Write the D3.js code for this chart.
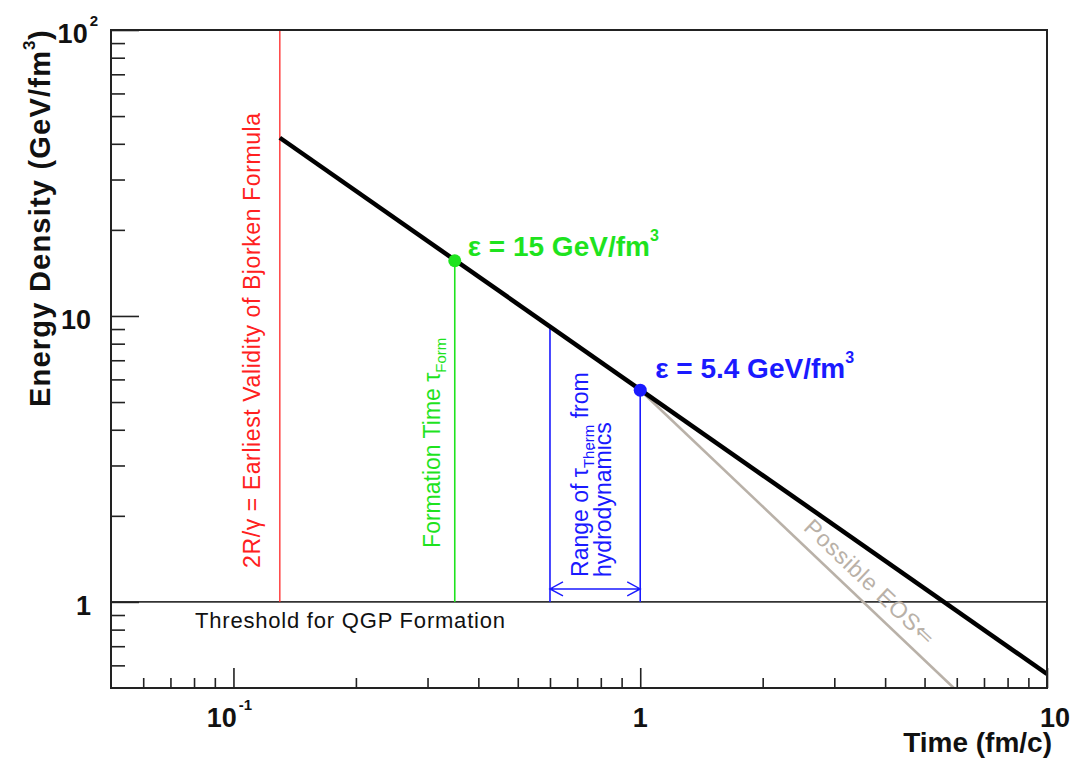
<!DOCTYPE html>
<html>
<head>
<meta charset="utf-8">
<script src="https://cdn.jsdelivr.net/npm/d3@7"></script>
<style>
  body { margin: 0; background: #fff; }
  svg { display: block; font-family: 'Liberation Sans', Arial, Helvetica, sans-serif; }
  .tick line { stroke: #222; stroke-width: 1.6; }
</style>
</head>
<body>
<div id="chart"></div>
<script>
// Chart data

// Bjorken estimate: energy density falls off with proper time
const bjorkenTau = [0.13, 10];
const bjorkenEps = [42, 0.56];

// "Possible EOS" curve, steeper fall-off starting at tau = 1
const eosTau = [1, 5.9];
const eosEps = [5.5, 0.5];

// Marked points on the Bjorken line
const formationPoint = { tau: 0.35, eps: 15.6 };
const thermPoint = { tau: 1.0, eps: 5.5 };
const thermRangeLow = { tau: 0.6, eps: 9.2 };

// Vertical markers
const earliestTau = 0.13;
const qgpThreshold = 1;
const arrowEps = 1.11;
const eosLabelTau = 2.4;

// Axis ticks
const xMajorTicks = [0.1, 1, 10];
const xMinorTicks = [0.06, 0.07, 0.08, 0.09, 0.2, 0.3, 0.4, 0.5, 0.6, 0.7, 0.8, 0.9, 2, 3, 4, 5, 6, 7, 8, 9];
const yMajorTicks = [1, 10, 100];
const yMinorTicks = [0.6, 0.7, 0.8, 0.9, 2, 3, 4, 5, 6, 7, 8, 9, 20, 30, 40, 50, 60, 70, 80, 90];
const xTickLabels = [
    { v: 0.1, base: '10', exp: '-1' },
    { v: 1, base: '1', exp: '' },
    { v: 10, base: '10', exp: '' }
];
const yTickLabels = [
    { v: 1, base: '1', exp: '' },
    { v: 10, base: '10', exp: '' },
    { v: 100, base: '10', exp: '2' }
];

const WIDTH = 1070, HEIGHT = 761;
const PLOT = { left: 111, right: 1047, top: 30, bottom: 688 };

const RED = '#ff2020', GREEN = '#1ee31e', BLUE = '#1a1aff', GRAY = '#b9b1a8';

const svg = d3.select('#chart').append('svg')
    .attr('width', WIDTH)
    .attr('height', HEIGHT);

const x = d3.scaleLog().domain([0.05, 10]).range([PLOT.left, PLOT.right]);
const y = d3.scaleLog().domain([0.5, 100]).range([PLOT.bottom, PLOT.top]);

svg.append('clipPath').attr('id', 'plot-clip')
    .append('rect')
    .attr('x', PLOT.left).attr('y', PLOT.top)
    .attr('width', PLOT.right - PLOT.left)
    .attr('height', PLOT.bottom - PLOT.top);

const plot = svg.append('g').attr('clip-path', 'url(#plot-clip)');

// Axes (ticks pointing inward)
function addAxis(axis, transform) {
    svg.append('g')
        .attr('transform', transform)
        .call(axis)
        .call(g => g.select('.domain').remove());
}
addAxis(d3.axisBottom(x).tickValues(xMajorTicks).tickSize(-20).tickFormat(''), `translate(0,${PLOT.bottom})`);
addAxis(d3.axisBottom(x).tickValues(xMinorTicks).tickSize(-10).tickFormat(''), `translate(0,${PLOT.bottom})`);
addAxis(d3.axisLeft(y).tickValues(yMajorTicks).tickSize(-28).tickFormat(''), `translate(${PLOT.left},0)`);
addAxis(d3.axisLeft(y).tickValues(yMinorTicks).tickSize(-14).tickFormat(''), `translate(${PLOT.left},0)`);

// Tick labels with exponents
function powerLabel(parent, d, attrs) {
    const t = parent.append('text')
        .attr('font-size', 27)
        .attr('font-weight', 'bold')
        .attr('fill', '#111');
    Object.entries(attrs).forEach(([k, v]) => t.attr(k, v));
    t.append('tspan').text(d.base);
    if (d.exp) {
        t.append('tspan')
            .attr('font-size', 15)
            .attr('dy', -17)
            .attr('dx', 2)
            .text(d.exp);
    }
    return t;
}

xTickLabels.forEach(d => {
    powerLabel(svg, d, {
        x: x(d.v) + (d.exp ? -4 : 0) + (d.v === 10 ? 8 : 0),
        y: PLOT.bottom + 39,
        'text-anchor': 'middle'
    });
});
yTickLabels.forEach(d => {
    powerLabel(svg, d, {
        x: d.exp ? 98 : 91,
        y: y(d.v) + 13,
        'text-anchor': 'end'
    });
});

// Axis titles
// y title: main part forced to a fixed length, then the exponent and ")" after it
const yTitleX = 50, yTitleStart = 407, yTitleMainLen = 356;
const yTitleTop = yTitleStart - yTitleMainLen;
svg.append('text')
    .attr('transform', `translate(${yTitleX},${yTitleStart}) rotate(-90)`)
    .attr('font-size', 29)
    .attr('font-weight', 'bold')
    .attr('textLength', yTitleMainLen)
    .attr('fill', '#111')
    .text('Energy Density (GeV/fm');
svg.append('text')
    .attr('transform', `translate(${yTitleX - 15},${yTitleTop - 1}) rotate(-90)`)
    .attr('font-size', 17)
    .attr('font-weight', 'bold')
    .attr('fill', '#111')
    .text('3');
svg.append('text')
    .attr('transform', `translate(${yTitleX},${yTitleTop - 11}) rotate(-90)`)
    .attr('font-size', 29)
    .attr('font-weight', 'bold')
    .attr('fill', '#111')
    .text(')');

svg.append('text')
    .attr('x', 1052)
    .attr('y', 752)
    .attr('text-anchor', 'end')
    .attr('font-size', 28)
    .attr('font-weight', 'bold')
    .attr('fill', '#111')
    .text('Time (fm/c)');

// Threshold line for QGP formation
plot.append('line')
    .attr('x1', PLOT.left).attr('x2', PLOT.right)
    .attr('y1', y(qgpThreshold)).attr('y2', y(qgpThreshold))
    .attr('stroke', '#333')
    .attr('stroke-width', 1.6);

svg.append('text')
    .attr('x', 195)
    .attr('y', y(qgpThreshold) + 26)
    .attr('font-size', 22)
    .attr('textLength', 310)
    .attr('fill', '#111')
    .text('Threshold for QGP Formation');

// Earliest validity (red)
plot.append('line')
    .attr('x1', x(earliestTau)).attr('x2', x(earliestTau))
    .attr('y1', y(100)).attr('y2', y(qgpThreshold))
    .attr('stroke', RED)
    .attr('stroke-opacity', 0.8)
    .attr('stroke-width', 1.6);

svg.append('text')
    .attr('transform', `translate(${x(earliestTau) - 20},${y(qgpThreshold) - 34}) rotate(-90)`)
    .attr('font-size', 23)
    .attr('textLength', 455)
    .attr('fill', RED)
    .text('2R/\u03B3 = Earliest Validity of Bjorken Formula');

// Formation time (green)
plot.append('line')
    .attr('x1', x(formationPoint.tau)).attr('x2', x(formationPoint.tau))
    .attr('y1', y(qgpThreshold)).attr('y2', y(formationPoint.eps))
    .attr('stroke', GREEN)
    .attr('stroke-width', 1.6);

const formText = svg.append('text')
    .attr('transform', `translate(${x(formationPoint.tau) - 15},${y(qgpThreshold) - 54}) rotate(-90)`)
    .attr('font-size', 23)
    .attr('fill', GREEN);
formText.append('tspan').text('Formation Time \u03C4');
formText.append('tspan').attr('font-size', 15).attr('dy', 6).text('Form');

// Thermalization range (blue)
[thermRangeLow, thermPoint].forEach(p => {
    plot.append('line')
        .attr('x1', x(p.tau)).attr('x2', x(p.tau))
        .attr('y1', y(qgpThreshold)).attr('y2', y(p.eps))
        .attr('stroke', BLUE)
        .attr('stroke-width', 1.6);
});

const ax0 = x(thermRangeLow.tau), ax1 = x(thermPoint.tau), ay = y(arrowEps);
plot.append('path')
    .attr('d', `M${ax0},${ay}H${ax1}M${ax0 + 13},${ay - 7}L${ax0},${ay}L${ax0 + 13},${ay + 7}` +
               `M${ax1 - 13},${ay - 7}L${ax1},${ay}L${ax1 - 13},${ay + 7}`)
    .attr('fill', 'none')
    .attr('stroke', BLUE)
    .attr('stroke-width', 1.4);

const thermText = svg.append('text')
    .attr('transform', `translate(${ax0 + 38},${y(qgpThreshold) - 25}) rotate(-90)`)
    .attr('font-size', 23)
    .attr('fill', BLUE);
thermText.append('tspan').text('Range of \u03C4');
thermText.append('tspan').attr('font-size', 15).attr('dy', 6).text('Therm');
thermText.append('tspan').attr('dy', -6).text(' from');

svg.append('text')
    .attr('transform', `translate(${ax0 + 61},${y(qgpThreshold) - 25}) rotate(-90)`)
    .attr('font-size', 23)
    .attr('fill', BLUE)
    .text('hydrodynamics');

// Possible EOS (gray)
const line = d3.line()
    .x(d => x(d[0]))
    .y(d => y(d[1]));

plot.append('path')
    .datum(d3.zip(eosTau, eosEps))
    .attr('d', line)
    .attr('fill', 'none')
    .attr('stroke', GRAY)
    .attr('stroke-width', 2.6);

const eosAngle = Math.atan2(y(eosEps[1]) - y(eosEps[0]), x(eosTau[1]) - x(eosTau[0])) * 180 / Math.PI;
const eosSlope = Math.log(eosEps[1] / eosEps[0]) / Math.log(eosTau[1] / eosTau[0]);
const eosLabelEps = eosEps[0] * Math.pow(eosLabelTau / eosTau[0], eosSlope);
svg.append('text')
    .attr('transform', `translate(${x(eosLabelTau)},${y(eosLabelEps)}) rotate(${eosAngle})`)
    .attr('dy', -11)
    .attr('font-size', 23)
    .attr('textLength', 170)
    .attr('fill', GRAY)
    .text('Possible EOS\u21D0');

// Bjorken line (black)
plot.append('path')
    .datum(d3.zip(bjorkenTau, bjorkenEps))
    .attr('d', line)
    .attr('fill', 'none')
    .attr('stroke', '#000')
    .attr('stroke-width', 4.5);

// Marked points and their labels
function epsLabel(p, color, value, dx, dy) {
    svg.append('circle')
        .attr('cx', x(p.tau)).attr('cy', y(p.eps))
        .attr('r', 6.5)
        .attr('fill', color);
    const t = svg.append('text')
        .attr('x', x(p.tau) + dx)
        .attr('y', y(p.eps) + dy)
        .attr('font-size', 28)
        .attr('font-weight', 'bold')
        .attr('fill', color);
    t.append('tspan').text(`\u03B5 = ${value} GeV/fm`);
    t.append('tspan').attr('font-size', 16).attr('dy', -15).text('3');
}
epsLabel(formationPoint, GREEN, '15', 13, -5);
epsLabel(thermPoint, BLUE, '5.4', 15, -12);

// Frame
svg.append('rect')
    .attr('x', PLOT.left).attr('y', PLOT.top)
    .attr('width', PLOT.right - PLOT.left)
    .attr('height', PLOT.bottom - PLOT.top)
    .attr('fill', 'none')
    .attr('stroke', '#222')
    .attr('stroke-width', 2);
</script>
</body>
</html>
